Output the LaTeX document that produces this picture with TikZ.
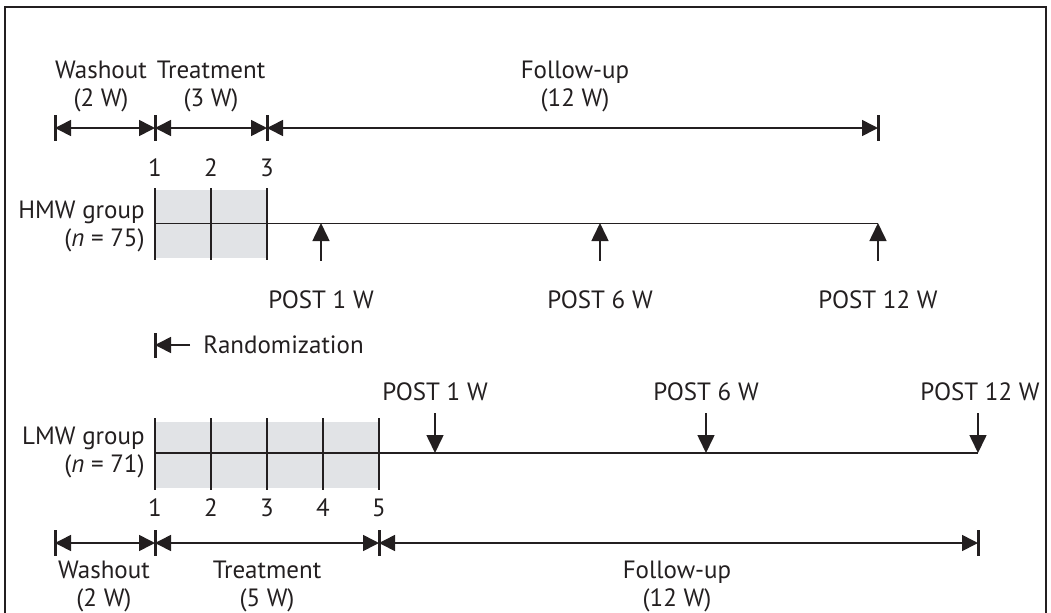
\documentclass[tikz,border=0pt]{standalone}
\usepackage{fontspec}
\setmainfont{PT Sans}
\usetikzlibrary{arrows.meta}
\definecolor{ink}{HTML}{231F20}
\definecolor{boxgrey}{HTML}{E1E3E6}

\begin{document}
\begin{tikzpicture}[x=0.5pt,y=-0.5pt]%
  \tikzstyle{lbl}=[font=\fontsize{12.5}{14}\selectfont,text=ink,inner sep=0,align=center]
  \tikzstyle{dimline}=[draw=ink,line width=0.8pt,{Triangle[length=8pt,width=8pt]}-{Triangle[length=8pt,width=8pt]}]
  \tikzstyle{tick}=[draw=ink,line width=1.5pt]
  \tikzstyle{divider}=[draw=ink,line width=1pt]
  \tikzstyle{post}=[draw=ink,line width=0.8pt,-{Triangle[length=9pt,width=8.5pt]}]
  \useasboundingbox (0,0) rectangle (1051,612);
  \draw[ink,line width=0.6pt] (5,7) rectangle (1046,650);

  % HMW group (upper)
  \node(hw)[lbl] at (101,86) {Washout\\(2 W)};
  \node(ht)[lbl] at (211,86) {Treatment\\(3 W)};
  \node(hf)[lbl] at (575,86) {Follow-up\\(12 W)};
  \coordinate (ha) at (55,128);
  \coordinate (hb) at (155,128);
  \coordinate (hc) at (267,128);
  \coordinate (hd) at (878,128);
  \draw[dimline] (ha) -- (hb);
  \draw[dimline] (hb) -- (hc);
  \draw[dimline] (hc) -- (hd);
  \draw[tick] (ha) ++(0,-13) -- ++(0,26);
  \draw[tick] (hb) ++(0,-13) -- ++(0,26);
  \draw[tick] (hc) ++(0,-13) -- ++(0,26);
  \draw[tick] (hd) ++(0,-13) -- ++(0,26);
  \fill[boxgrey] (155,190) rectangle (267,258);
  \foreach \n/\x in {1/155,2/211,3/267}{
    \node[lbl] (hn\n) at (\x,168) {\n};
    \draw[divider] (\x,188) -- (\x,260);
  }
  \node(hg)[lbl,anchor=east,align=right] at (145,226) {HMW group\\(\textit{n} = 75)};
  \coordinate (h0) at (155,223);
  \coordinate (h3) at (878,223);
  \draw[ink,line width=0.5pt] (h0) -- (h3);
  \node(hp1)[lbl] at (321,300) {POST 1 W};
  \node(hp2)[lbl] at (600,300) {POST 6 W};
  \node(hp3)[lbl] at (878,300) {POST 12 W};
  \coordinate (h1) at (321,223);
  \coordinate (h2) at (600,223);
  \draw[post] (hp1.north) ++(0,-30) -- (h1);
  \draw[post] (hp2.north) ++(0,-30) -- (h2);
  \draw[post] (hp3.north) ++(0,-30) -- (h3);

  % randomization
  \node(rnd)[lbl,anchor=west] at (203,345) {Randomization};
  \coordinate (r0) at (155,345);
  \coordinate (r1) at (190,345);
  \draw[ink,line width=0.8pt,-{Triangle[length=8pt,width=8pt]}] (r1) -- (r0);
  \draw[tick] (r0) ++(0,-12) -- ++(0,25);

  % LMW group (lower)
  \node(lp1)[lbl] at (435,392) {POST 1 W};
  \node(lp2)[lbl] at (706,392) {POST 6 W};
  \node(lp3)[lbl] at (980,392) {POST 12 W};
  \coordinate (l0) at (155,453);
  \coordinate (l1) at (435,453);
  \coordinate (l2) at (706,453);
  \coordinate (l3) at (978,453);
  \fill[boxgrey] (155,422) rectangle (379,488);
  \foreach \n/\x in {1/155,2/211,3/267,4/323,5/379}{
    \node[lbl] (ln\n) at (\x,508) {\n};
    \draw[divider] (\x,418) -- (\x,490);
  }
  \draw[ink,line width=0.8pt] (l0) -- (l3);
  \draw[post] (lp1.south) ++(0,12) -- (l1);
  \draw[post] (lp2.south) ++(0,12) -- (l2);
  \draw[post] (lp3.south) ++(-2,12) -- (l3);
  \node(lg)[lbl,anchor=east,align=right] at (145,452) {LMW group\\(\textit{n} = 71)};
  \coordinate (la) at (55,543);
  \coordinate (lb) at (155,543);
  \coordinate (lc) at (379,543);
  \coordinate (ld) at (978,543);
  \draw[dimline] (la) -- (lb);
  \draw[dimline] (lb) -- (lc);
  \draw[dimline] (lc) -- (ld);
  \draw[tick] (la) ++(0,-13) -- ++(0,26);
  \draw[tick] (lb) ++(0,-13) -- ++(0,26);
  \draw[tick] (lc) ++(0,-13) -- ++(0,26);
  \draw[tick] (ld) ++(0,-13) -- ++(0,26);
  \node(lw)[lbl] at (104,586) {Washout\\(2 W)};
  \node(lt)[lbl] at (267,586) {Treatment\\(5 W)};
  \node(lf)[lbl] at (677,586) {Follow-up\\(12 W)};
\end{tikzpicture}
\end{document}
